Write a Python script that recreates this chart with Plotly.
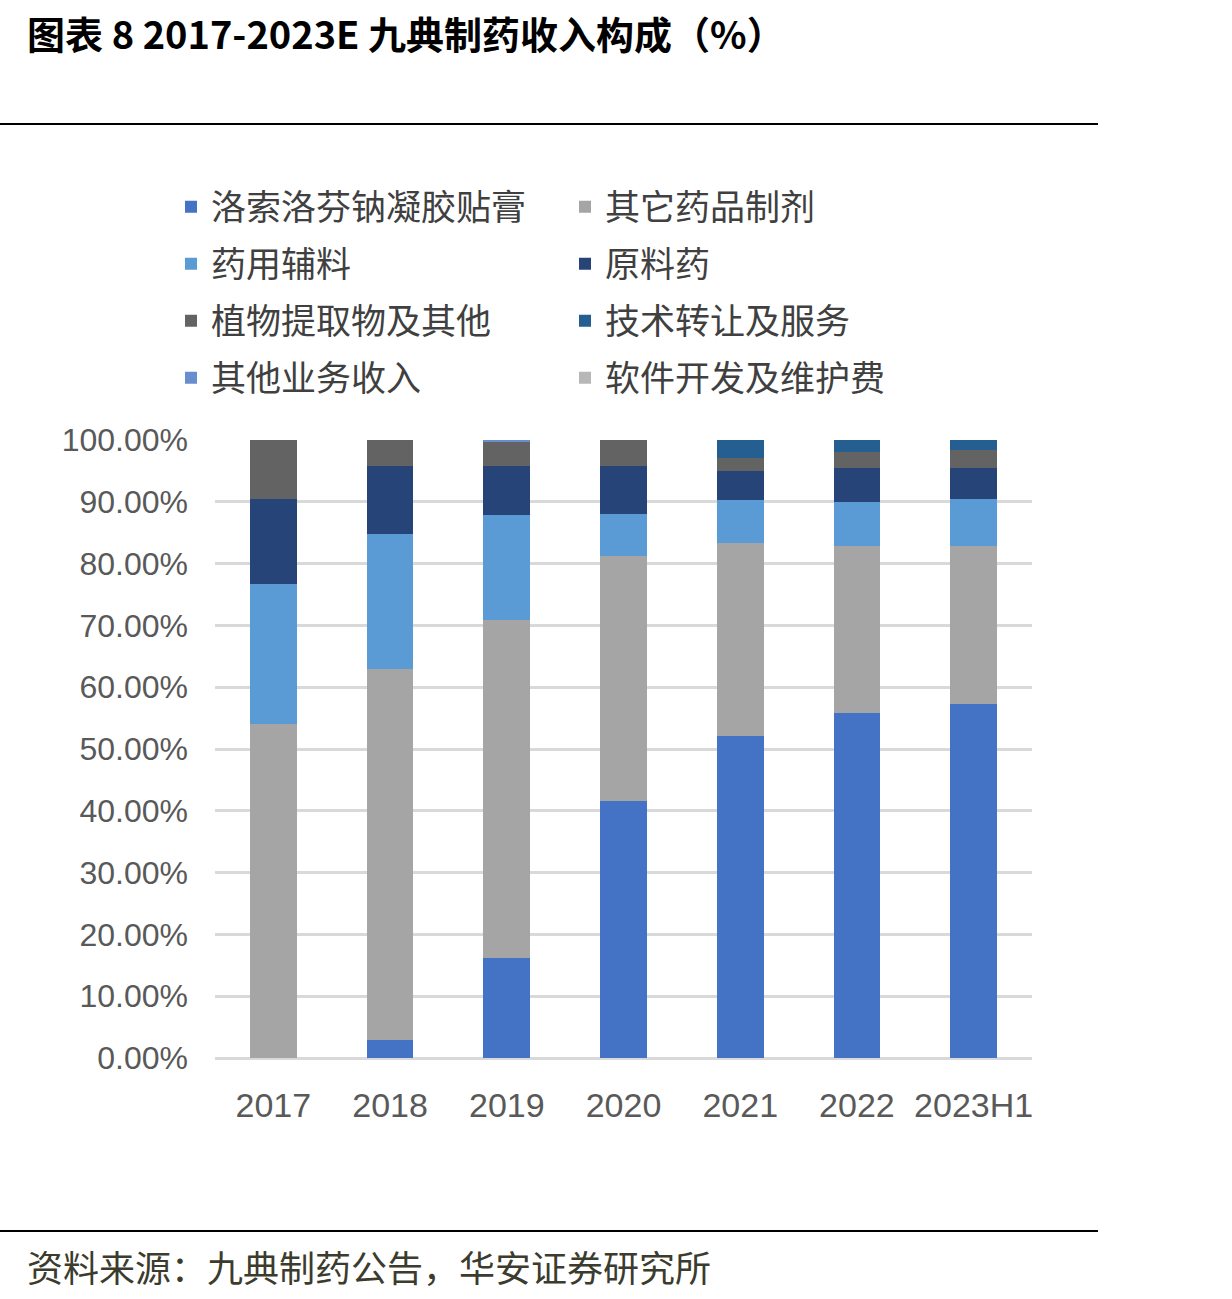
import plotly.graph_objects as go

years = ["2017", "2018", "2019", "2020", "2021", "2022", "2023H1"]

loxoprofen = [0.0, 2.9, 16.2, 41.6, 52.1, 55.8, 57.3]      # 洛索洛芬钠凝胶贴膏
other_drugs = [54.0, 60.0, 54.7, 39.6, 31.2, 27.0, 25.5]    # 其它药品制剂
excipients = [22.7, 21.9, 17.0, 6.8, 7.0, 7.2, 7.7]         # 药用辅料
api = [13.8, 11.0, 7.9, 7.8, 4.7, 5.5, 5.0]                 # 原料药
plant = [9.5, 4.2, 3.8, 4.2, 2.1, 2.6, 2.9]                 # 植物提取物及其他
tech = [0.0, 0.0, 0.0, 0.0, 2.9, 1.9, 1.6]                  # 技术转让及服务
other_biz = [0.0, 0.0, 0.4, 0.0, 0.0, 0.0, 0.0]             # 其他业务收入
software = [0.0, 0.0, 0.0, 0.0, 0.0, 0.0, 0.0]              # 软件开发及维护费

series = [
    ("洛索洛芬钠凝胶贴膏", loxoprofen, "#4472C4", "legend"),
    ("其它药品制剂", other_drugs, "#A5A5A5", "legend"),
    ("药用辅料", excipients, "#5B9BD5", "legend2"),
    ("原料药", api, "#264478", "legend2"),
    ("植物提取物及其他", plant, "#636363", "legend3"),
    ("技术转让及服务", tech, "#255E91", "legend3"),
    ("其他业务收入", other_biz, "#698ED0", "legend4"),
    ("软件开发及维护费", software, "#B7B7B7", "legend4"),
]

fig = go.Figure()
for name, vals, color, lg in series:
    fig.add_trace(go.Bar(x=years, y=vals, name=name, marker_color=color,
                         marker_line_width=0, legend=lg))

W, H = 1232, 1299
L, R, T, B = 215, 200, 440, 241
pw, ph = W - L - R, H - T - B

def px(x):
    return (x - L) / pw

def py(y):
    return (H - B - y) / ph

cjk = "Noto Sans CJK SC"
leg_common = dict(orientation="h", traceorder="normal", entrywidth=349,
                  entrywidthmode="pixels", font=dict(family=cjk, size=35, color="#404040"),
                  bgcolor="rgba(0,0,0,0)", xanchor="left", yanchor="middle", x=px(171))
rows = [207, 264, 321, 378]

fig.update_layout(
    width=W, height=H, barmode="stack", bargap=0.6,
    plot_bgcolor="white", paper_bgcolor="white",
    margin=dict(l=L, r=R, t=T, b=B, autoexpand=False),
    legend=dict(y=py(rows[0]), **leg_common),
    legend2=dict(y=py(rows[1]), **leg_common),
    legend3=dict(y=py(rows[2]), **leg_common),
    legend4=dict(y=py(rows[3]), **leg_common),
    xaxis=dict(tickfont=dict(family="Liberation Sans", size=34, color="#595959"),
               showgrid=False, showline=False, ticks="", ticklabelstandoff=24),
    yaxis=dict(range=[0, 100], dtick=10, tickformat=".2f", ticksuffix="%",
               tickfont=dict(family="Liberation Sans", size=32, color="#595959"),
               showgrid=True, gridcolor="#D9D9D9", gridwidth=3, zeroline=True,
               zerolinecolor="#D9D9D9", zerolinewidth=3, ticks="", ticklabelstandoff=26),
    shapes=[
        dict(type="line", xref="paper", yref="paper", x0=px(0), x1=px(1098),
             y0=py(124), y1=py(124), line=dict(color="black", width=2)),
        dict(type="line", xref="paper", yref="paper", x0=px(0), x1=px(1098),
             y0=py(1231), y1=py(1231), line=dict(color="black", width=2)),
    ],
    annotations=[
        dict(text="<b>图表 8 2017-2023E 九典制药收入构成（%）</b>", xref="paper", yref="paper",
             x=px(25), y=py(32), xanchor="left", yanchor="middle", showarrow=False,
             font=dict(family=cjk, size=38, color="black")),
        dict(text="资料来源：九典制药公告，华安证券研究所", xref="paper", yref="paper",
             x=px(25), y=py(1266), xanchor="left", yanchor="middle", showarrow=False,
             font=dict(family=cjk, size=36, color="#3b3b2e")),
    ],
)

fig.write_html("out.html")
